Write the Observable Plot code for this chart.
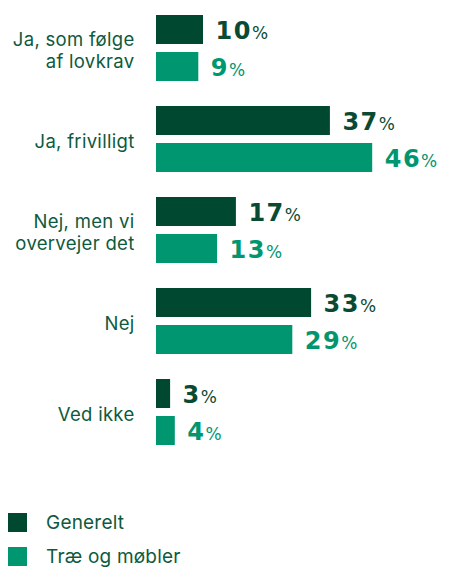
<!DOCTYPE html>
<html><head><meta charset="utf-8">
<script src="https://cdn.jsdelivr.net/npm/d3@7"></script>
<script src="https://cdn.jsdelivr.net/npm/@observablehq/plot@0.6"></script>
<style>
body{margin:0;background:#fff;font-family:Inter, sans-serif;}
#legend{margin-top:53px;margin-left:8px}
.item{display:flex;align-items:center;height:19px;margin-bottom:15px;font-size:19px;letter-spacing:0.2px;color:#0d5a3e}
.sw{width:19px;height:19px;margin-right:19px}
</style></head><body><div id="chart"></div><div id="legend"></div>
<script>
const categories = ["Ja, som følge\naf lovkrav","Ja, frivilligt","Nej, men vi\novervejer det","Nej","Ved ikke"];
const series = ["Generelt","Træ og møbler"];
const generelt = [10,37,17,33,3];
const traeOgMobler = [9,46,13,29,4];
const colors = ["#00482f","#009670"];
const labelColors = ["#0a4a33","#009670"];
const textColor = "#0d5a3e";

const data = categories.flatMap((c,i)=>[
  {cat:c, series:series[0], value:generelt[i]},
  {cat:c, series:series[1], value:traeOgMobler[i]}
]);

const valText = (s, col) => Plot.text(data.filter(d=>d.series===s), {
  fy:"cat", y:"series", x:"value", text:d=>String(d.value),
  fill:col, textAnchor:"start", dx:12, dy:1,
  fontSize:24, fontWeight:"bold", fontFamily:"DejaVu Sans", className:"val"
});

const chart = Plot.plot({
  width:452, height:460,
  marginLeft:156, marginRight:61, marginTop:13, marginBottom:12,
  x:{domain:[0,50], axis:null},
  y:{domain:series, axis:null, paddingInner:0.21, paddingOuter:0},
  fy:{domain:categories, axis:null, paddingInner:0.259, paddingOuter:0},
  color:{domain:series, range:colors},
  style:{fontFamily:"Inter, sans-serif", background:"#fff"},
  marks:[
    Plot.barX(data,{fy:"cat", y:"series", x:"value", fill:"series"}),
    valText(series[0], labelColors[0]),
    valText(series[1], labelColors[1]),
    Plot.text(categories, {fy:d=>d, text:d=>d, frameAnchor:"left", textAnchor:"end",
      dx:-22, dy:1, fontSize:18.5, lineHeight:1.2, fill:textColor})
  ]
});
document.getElementById("chart").appendChild(chart);

chart.querySelectorAll(".val text").forEach(t=>{
  const v = t.textContent;
  t.textContent = "";
  const a = document.createElementNS("http://www.w3.org/2000/svg","tspan");
  a.textContent = v;
  a.setAttribute("letter-spacing","1.5");
  const b = document.createElementNS("http://www.w3.org/2000/svg","tspan");
  b.textContent = "%";
  b.setAttribute("font-size","17");
  b.setAttribute("font-weight","normal");
  b.setAttribute("font-family","DejaVu Sans");
  b.setAttribute("dx","0");
  t.appendChild(a); t.appendChild(b);
});
chart.querySelectorAll("text").forEach(t=>{ if(!t.closest(".val")) t.setAttribute("letter-spacing","0.3"); });

const legend = document.getElementById("legend");
series.forEach((s,i)=>{
  const it = document.createElement("div"); it.className="item";
  const sw = document.createElement("div"); sw.className="sw"; sw.style.background=colors[i];
  const lb = document.createElement("span"); lb.textContent=s;
  it.appendChild(sw); it.appendChild(lb); legend.appendChild(it);
});
</script></body></html>
